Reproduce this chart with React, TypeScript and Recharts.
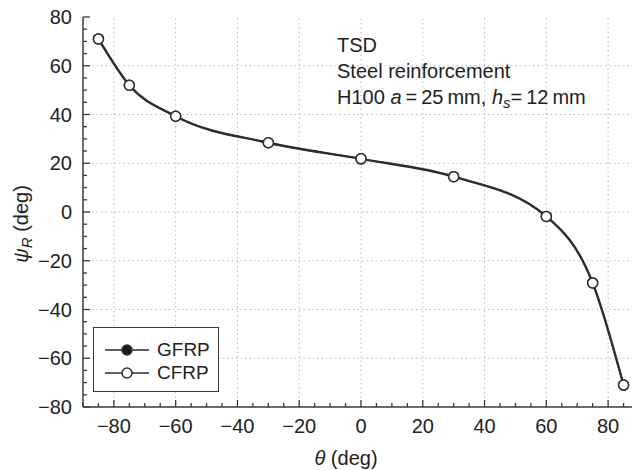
import React from 'react';
import { LineChart, Line, XAxis, YAxis, ReferenceLine } from 'recharts';

// theta (deg) and psi_R (deg)
const theta = [-85, -75, -60, -30, 0, 30, 60, 75, 85];
const gfrp = [71, 52, 39.3, 28.4, 21.8, 14.5, -1.8, -29.1, -71];
const cfrp = [71, 52, 39.3, 28.4, 21.8, 14.5, -1.8, -29.1, -71];

const xMajor = [-80, -60, -40, -20, 0, 20, 40, 60, 80];
const yMajor = [-80, -60, -40, -20, 0, 20, 40, 60, 80];
const xAllTicks = [-90, -85, -80, -75, -70, -65, -60, -55, -50, -45, -40, -35, -30, -25, -20, -15, -10, -5, 0, 5, 10, 15, 20, 25, 30, 35, 40, 45, 50, 55, 60, 65, 70, 75, 80, 85, 90];
const yAllTicks = [-80, -75, -70, -65, -60, -55, -50, -45, -40, -35, -30, -25, -20, -15, -10, -5, 0, 5, 10, 15, 20, 25, 30, 35, 40, 45, 50, 55, 60, 65, 70, 75, 80];

const data = theta.map((t, i) => ({ theta: t, gfrp: gfrp[i], cfrp: cfrp[i] }));

const FONT = '"Liberation Sans", Arial, Helvetica, sans-serif';
const AXIS = '#3a3a3a';
const LINE = '#2e2e2e';

const fmt = (v: number) => (v < 0 ? '\u2212' + Math.abs(v) : String(v));

const BottomTick = (props: any) => {
  const { x, y, payload } = props;
  const major = payload.value % 20 === 0 && Math.abs(payload.value) <= 80;
  return (
    <g>
      <line x1={x} x2={x} y1={y} y2={y - (major ? 7 : 4)} stroke={AXIS} strokeWidth={1.3} />
      {major && (
        <text x={x} y={y + 19} dy="0.35em" textAnchor="middle" fontSize={20} fill="#222" fontFamily={FONT}>
          {fmt(payload.value)}
        </text>
      )}
    </g>
  );
};

const TopTick = (props: any) => {
  const { x, y, payload } = props;
  const major = payload.value % 20 === 0;
  return <line x1={x} x2={x} y1={y} y2={y + (major ? 7 : 4)} stroke={AXIS} strokeWidth={1.3} />;
};

const LeftTick = (props: any) => {
  const { x, y, payload } = props;
  const major = payload.value % 20 === 0;
  return (
    <g>
      <line x1={x} x2={x + (major ? 7 : 4)} y1={y} y2={y} stroke={AXIS} strokeWidth={1.3} />
      {major && (
        <text x={x - 11} y={y} dy="0.35em" textAnchor="end" fontSize={20} fill="#222" fontFamily={FONT}>
          {fmt(payload.value)}
        </text>
      )}
    </g>
  );
};

const LegendMark = ({ filled }: { filled: boolean }) => (
  <svg width={46} height={14} style={{ display: 'block' }}>
    <line x1={1} x2={45} y1={7} y2={7} stroke={LINE} strokeWidth={1.5} />
    <circle cx={23} cy={7} r={5} fill={filled ? '#1a1a1a' : '#fff'} stroke={LINE} strokeWidth={1.5} />
  </svg>
);

export default function App() {
  return (
    <div
      style={{
        position: 'fixed',
        left: 0,
        top: 0,
        width: 632,
        height: 470,
        overflow: 'hidden',
        fontFamily: FONT,
        color: '#222',
        background: '#fff',
      }}
    >
      <LineChart width={648} height={470} data={data} margin={{ top: 17, right: 9, left: 0, bottom: 0 }}>
        <XAxis
          dataKey="theta"
          type="number"
          domain={[-90, 90]}
          ticks={xAllTicks}
          interval={0}
          tickSize={0}
          tickMargin={0}
          tickLine={false}
          tick={BottomTick}
          height={63}
          allowDataOverflow
          axisLine={{ stroke: AXIS, strokeWidth: 1.5 }}
        />
        <XAxis
          xAxisId="top"
          orientation="top"
          type="number"
          domain={[-90, 90]}
          ticks={xAllTicks}
          interval={0}
          tickSize={0}
          tickMargin={0}
          tickLine={false}
          tick={TopTick}
          height={0}
          allowDataOverflow
          axisLine={{ stroke: AXIS, strokeWidth: 1.5 }}
        />
        <YAxis
          type="number"
          domain={[-80, 80]}
          ticks={yAllTicks}
          interval={0}
          tickSize={0}
          tickMargin={0}
          tickLine={false}
          tick={LeftTick}
          width={83}
          allowDataOverflow
          axisLine={{ stroke: AXIS, strokeWidth: 1.5 }}
        />
        {xMajor.map((v) => (
          <ReferenceLine key={'x' + v} x={v} stroke="#b8b8b8" strokeDasharray="1.5 3" strokeWidth={1} />
        ))}
        {yMajor.slice(1, -1).map((v) => (
          <ReferenceLine key={'y' + v} y={v} stroke="#b8b8b8" strokeDasharray="1.5 3" strokeWidth={1} />
        ))}
        <Line
          type="monotone"
          dataKey="gfrp"
          stroke={LINE}
          strokeWidth={2.4}
          dot={{ r: 5, fill: '#1a1a1a', stroke: LINE, strokeWidth: 1.5 }}
          isAnimationActive={false}
        />
        <Line
          type="monotone"
          dataKey="cfrp"
          stroke={LINE}
          strokeWidth={1.5}
          dot={{ r: 5, fill: '#fff', stroke: LINE, strokeWidth: 1.5 }}
          isAnimationActive={false}
        />
      </LineChart>

      {/* annotation */}
      <div style={{ position: 'absolute', left: 337, top: 32, fontSize: 20, lineHeight: '26px', whiteSpace: 'nowrap' }}>
        <div>TSD</div>
        <div>Steel reinforcement</div>
        <div>
          H100 <i>a</i>{'\u2009=\u200925\u2009mm, '}
          <i>h</i>
          <sub style={{ fontSize: 15, fontStyle: 'italic', verticalAlign: '-4px' }}>s</sub>
          {'=\u200912\u2009mm'}
        </div>
      </div>

      {/* legend */}
      <div
        style={{
          position: 'absolute',
          left: 93,
          top: 327,
          width: 126,
          height: 65,
          boxSizing: 'border-box',
          border: `1.5px solid ${AXIS}`,
          background: '#fff',
          fontSize: 19,
        }}
      >
        <div style={{ position: 'absolute', left: 10, top: 14, display: 'flex', alignItems: 'center', height: 16 }}>
          <LegendMark filled />
          <span style={{ marginLeft: 7, lineHeight: '16px' }}>GFRP</span>
        </div>
        <div style={{ position: 'absolute', left: 10, top: 37, display: 'flex', alignItems: 'center', height: 16 }}>
          <LegendMark filled={false} />
          <span style={{ marginLeft: 7, lineHeight: '16px' }}>CFRP</span>
        </div>
      </div>

      {/* axis titles */}
      <div
        style={{
          position: 'absolute',
          left: 22,
          top: 224,
          transform: 'translate(-50%, -50%) rotate(-90deg)',
          fontSize: 20,
          whiteSpace: 'nowrap',
        }}
      >
        <i>ψ</i>
        <sub style={{ fontSize: 15, fontStyle: 'italic', verticalAlign: '-4px' }}>R</sub> (deg)
      </div>
      <div
        style={{
          position: 'absolute',
          left: 346,
          top: 458,
          transform: 'translate(-50%, -50%)',
          fontSize: 20,
          whiteSpace: 'nowrap',
        }}
      >
        <i>θ</i> (deg)
      </div>
    </div>
  );
}
